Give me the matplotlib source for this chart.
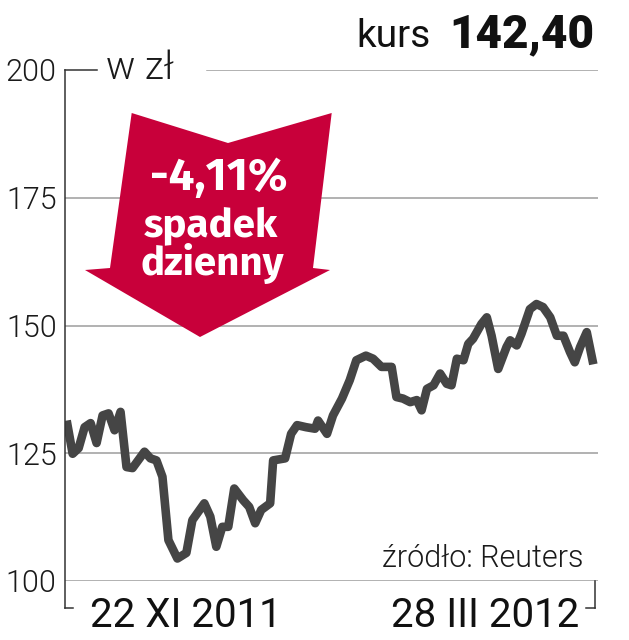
import matplotlib
matplotlib.use("Agg")
import matplotlib.pyplot as plt
from matplotlib.lines import Line2D
from matplotlib.patches import Polygon

# trading day (0 = 22 XI 2011, 88 = 28 III 2012) and closing price in zl
days = [0, 1, 2, 3, 4, 5, 6, 7, 8, 9, 10, 11, 13, 14, 15, 16, 17, 18.5, 20, 21,
        23, 24, 25, 26, 27, 28, 29.5, 30.5, 31.5, 32.5, 34, 34.5, 36.5, 37.5, 38.5,
        40, 41.5, 42, 43.5, 44.5, 46, 47.3, 48.4, 50, 51.2, 52.6, 54.3, 55.1, 56.2,
        57.4, 58.5, 59.3, 60.2, 61.3, 62.4, 63.5, 64.3, 65.2, 66.3, 67.1, 67.9, 69.3,
        70.2, 71, 72.1, 73.5, 74.1, 75.2, 76, 77.4, 78.5, 79.6, 80.8, 81.9, 83, 84.1,
        84.9, 85.8, 86.9, 88]
prices = [131.4, 124.9, 126.0, 130.1, 130.9, 127.0, 132.4, 132.8, 129.5, 133.1,
          122.3, 122.1, 125.3, 124.0, 123.6, 120.4, 108.0, 104.4, 105.5, 111.9,
          115.2, 112.6, 106.7, 110.6, 110.6, 118.1, 115.8, 114.5, 111.3, 113.9,
          115.2, 123.6, 124.0, 128.8, 130.5, 130.1, 129.8, 131.4, 128.8, 132.4,
          135.7, 139.3, 143.2, 144.1, 143.5, 141.9, 141.9, 136.0, 135.7, 135.0,
          135.4, 133.4, 137.6, 138.3, 140.6, 138.6, 138.3, 143.5, 143.2, 146.4,
          147.4, 150.3, 151.6, 148.0, 141.5, 145.8, 147.1, 146.1, 148.4, 153.2,
          154.2, 153.6, 151.6, 148.0, 148.0, 144.8, 142.8, 145.8, 148.7, 142.4]

yticks = [100, 125, 150, 175, 200]
date_labels = ["22 XI 2011", "28 III 2012"]
last_price = "142,40"
change = "-4,11%"

W, H = 629, 640
RED = "#c8003a"
LINE = "#454545"
GRID = "#9c9c9c"
INK = "#1a1a1a"


def fx(x):
    return x / W


def fy(y):
    return 1 - y / H


fig = plt.figure(figsize=(W / 100, H / 100), dpi=100)
ax = fig.add_axes([fx(65), fy(581), fx(598 - 65), (581 - 70) / H])
ax.set_xlim(-0.28, 88.78)
ax.set_ylim(100, 200)
for s in ax.spines.values():
    s.set_visible(False)

for v in yticks[:-1]:
    ax.axhline(v, color=GRID, lw=1.1, zorder=1)
ax.axhline(200, xmin=(207 - 65) / (598 - 65), xmax=1, color=GRID, lw=1.1, zorder=1)

ax.plot(days, prices, color=LINE, lw=6.2, solid_joinstyle="round",
        solid_capstyle="butt", zorder=3)

ax.set_xticks([])
ax.set_yticks(yticks)
ax.set_yticklabels([str(v) for v in yticks], fontfamily="Roboto", fontweight=300,
                   fontsize=22, color=INK)
ax.tick_params(axis="y", length=0, pad=6)

# frame brackets
frame = [
    [(65, 70), (65, 608)],
    [(65, 608), (73, 608)],
    [(65, 70), (97, 70)],
    [(595, 581), (595, 608)],
    [(586, 608), (595, 608)],
]
for (x0, y0), (x1, y1) in frame:
    fig.add_artist(Line2D([fx(x0), fx(x1)], [fy(y0), fy(y1)], color="#333333",
                          lw=1.1, transform=fig.transFigure))

fig.text(fx(106), fy(79), "w zł", fontfamily="Roboto", fontweight=300, fontsize=28,
         va="baseline", ha="left", color=INK)

# title
fig.text(fx(594), fy(47), last_price, fontfamily="Roboto", fontweight=900,
         fontstyle="normal", fontsize=33, va="baseline", ha="right", color="#111111")
fig.text(fx(431), fy(47), "kurs", fontfamily="Roboto", fontweight=400,
         fontsize=28, va="baseline", ha="right", color="#111111")

# red arrow
arrow_px = [(131.7, 113), (228, 143), (331.7, 113), (313, 268), (330, 270),
            (200, 337), (85, 270), (110, 268)]
fig.add_artist(Polygon([(fx(x), fy(y)) for x, y in arrow_px], closed=True,
                       facecolor=RED, edgecolor="none", transform=fig.transFigure,
                       zorder=2))
fig.text(fx(219), fy(190), change, fontfamily="Fira Sans", fontweight=700,
         fontsize=33, color="white", ha="center", va="baseline", zorder=4)
fig.text(fx(211), fy(236), "spadek", fontfamily="Fira Sans", fontweight=700,
         fontsize=29, color="white", ha="center", va="baseline", zorder=4)
fig.text(fx(212), fy(275), "dzienny", fontfamily="Fira Sans", fontweight=700,
         fontsize=29, color="white", ha="center", va="baseline", zorder=4)

# bottom labels
fig.text(fx(90), fy(627), date_labels[0], fontfamily="Roboto", fontweight=400,
         fontsize=29, va="baseline", ha="left", color="#111111")
fig.text(fx(579), fy(627), date_labels[1], fontfamily="Roboto", fontweight=400,
         fontsize=29, va="baseline", ha="right", color="#111111")
fig.text(fx(583), fy(567), "źródło: Reuters", fontfamily="Roboto", fontweight=300,
         fontsize=22, va="baseline", ha="right", color=INK)

fig.savefig("out.png", dpi=100)
